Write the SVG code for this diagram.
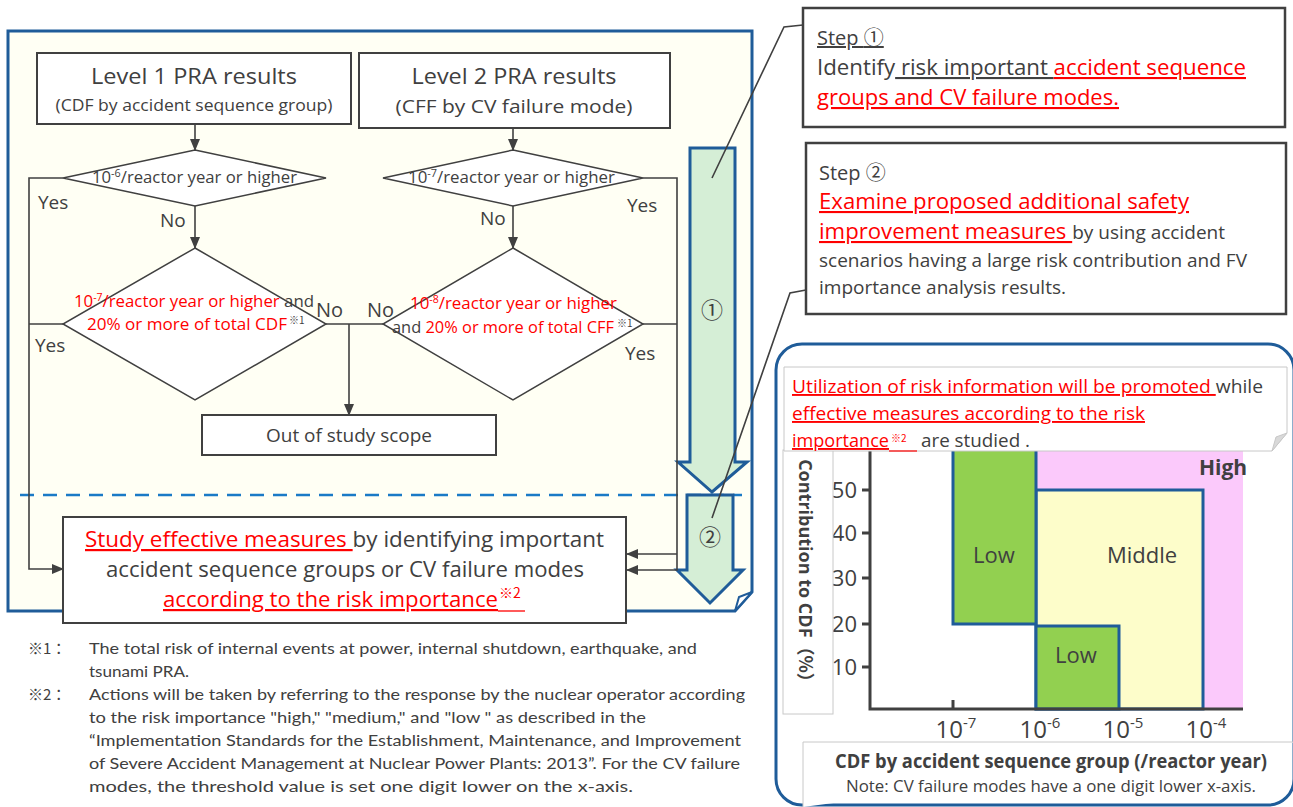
<svg xmlns="http://www.w3.org/2000/svg" width="1293" height="807" viewBox="0 0 1293 807">
<defs>
<style>
text{font-family:"Open Sans","Noto Sans","Noto Sans CJK JP",sans-serif;fill:#404040}
.r{fill:#ff0000}
.u{text-decoration:underline}
.box{fill:#fff;stroke:#404040;stroke-width:2}
.dia{fill:#fff;stroke:#404040;stroke-width:1.5}
.ln{fill:none;stroke:#404040;stroke-width:1.6}
.gar{fill:#d5eed6;stroke:#1f5c99;stroke-width:3}
.fn{font-family:Lato,"Liberation Sans","Noto Sans CJK JP",sans-serif;font-size:16px}
.cjk{font-family:"Noto Sans CJK JP",sans-serif}
.rg{stroke:#1f5c99;stroke-width:3}
</style>
<marker id="ah" markerWidth="12" markerHeight="12" refX="11" refY="6" orient="auto" markerUnits="userSpaceOnUse">
<path d="M0,1 L12,6 L0,11 Z" fill="#404040"/>
</marker>
</defs>

<!-- outer flow panel -->
<g id="panel">
<path d="M8,31 H752 V592 L735,611 H8 Z" fill="#fffff4" stroke="#1f5c99" stroke-width="3"/>
<path d="M735,611 L739,597 L752,592 Z" fill="#fff" stroke="#1f5c99" stroke-width="2"/>
<line x1="20" y1="495" x2="742" y2="495" stroke="#1a7ac6" stroke-width="2.5" stroke-dasharray="14 9"/>
</g>

<g id="step-arrows">
<path class="gar" d="M690,148 H735 V462 H747 L712,492 L678,462 H690 Z"/>
<path class="gar" d="M687,495 H733 V570 H743 L710,603 L677,570 H687 Z"/>
<text x="712" y="318" font-size="22" text-anchor="middle" class="cjk" fill="#595959">①</text>
<text x="710" y="545" font-size="22" text-anchor="middle" class="cjk" fill="#595959">②</text>
</g>

<g id="connectors">
<path class="ln" d="M195,123 V150" marker-end="url(#ah)"/>
<path class="ln" d="M513,128 V150" marker-end="url(#ah)"/>
<path class="ln" d="M195,206 V248" marker-end="url(#ah)"/>
<path class="ln" d="M513,206 V248" marker-end="url(#ah)"/>
<path class="ln" d="M63,178 H29 V569 H63" marker-end="url(#ah)"/>
<path class="ln" d="M63,324 H29"/>
<path class="ln" d="M326,324 H383"/>
<path class="ln" d="M349,324 V415" marker-end="url(#ah)"/>
<path class="ln" d="M643,178 H677 V570 H627" marker-end="url(#ah)"/>
<path class="ln" d="M643,324 H677"/>
<path class="ln" d="M677,554 H627" marker-end="url(#ah)"/>
<polyline class="ln" points="712,178 784,27 803,25"/>
<polyline class="ln" points="712,518 790,293 806,290"/>
</g>

<g id="level1">
<rect class="box" x="37" y="53" width="314" height="71"/>
<text x="194" y="84" font-size="22" text-anchor="middle" textLength="206" lengthAdjust="spacingAndGlyphs">Level 1 PRA results</text>
<text x="194" y="111" font-size="17" text-anchor="middle" textLength="277" lengthAdjust="spacingAndGlyphs">(CDF by accident sequence group)</text>
</g>

<g id="level2">
<rect class="box" x="359" y="53" width="311" height="75"/>
<text x="514" y="84" font-size="22" text-anchor="middle" textLength="205" lengthAdjust="spacingAndGlyphs">Level 2 PRA results</text>
<text x="514" y="113" font-size="18" text-anchor="middle" textLength="237" lengthAdjust="spacingAndGlyphs">(CFF by CV failure mode)</text>
</g>

<g id="dec1">
<path class="dia" d="M195,150 L326,178 L195,206 L63,178 Z"/>
<text x="92" y="183" font-size="15.5" textLength="205" lengthAdjust="spacingAndGlyphs">10<tspan font-size="10" dy="-6">-6</tspan><tspan dy="6">/reactor year or higher</tspan></text>
<text x="38" y="209" font-size="19">Yes</text>
<text x="160" y="227" font-size="19">No</text>
</g>

<g id="dec2">
<path class="dia" d="M513,150 L643,178 L513,206 L383,178 Z"/>
<text x="408" y="183" font-size="15.5" textLength="207" lengthAdjust="spacingAndGlyphs">10<tspan font-size="10" dy="-6">-7</tspan><tspan dy="6">/reactor year or higher</tspan></text>
<text x="480" y="225" font-size="19">No</text>
<text x="627" y="212" font-size="19">Yes</text>
</g>

<g id="dec3">
<path class="dia" d="M195,248 L326,324 L195,400 L63,324 Z"/>
<text x="74" y="307" font-size="16" textLength="240" lengthAdjust="spacingAndGlyphs"><tspan class="r">10</tspan><tspan class="r" font-size="10" dy="-6">-7</tspan><tspan class="r" dy="6">/reactor year or higher </tspan><tspan>and</tspan></text>
<text x="87" y="330" font-size="16" textLength="200" lengthAdjust="spacingAndGlyphs" class="r">20% or more of total CDF</text>
<text x="289" y="324" font-size="10" class="cjk" fill="#595959">※1</text>
<text x="316" y="317" font-size="20" fill="#595959">No</text>
<text x="35" y="352" font-size="19">Yes</text>
</g>

<g id="dec4">
<path class="dia" d="M513,248 L643,324 L513,400 L383,324 Z"/>
<text x="410" y="309" font-size="16" textLength="207" lengthAdjust="spacingAndGlyphs" class="r">10<tspan font-size="10" dy="-6">-8</tspan><tspan dy="6">/reactor year or higher</tspan></text>
<text x="392" y="333" font-size="16" textLength="222" lengthAdjust="spacingAndGlyphs"><tspan>and </tspan><tspan class="r">20% or more of total CFF</tspan></text>
<text x="617" y="327" font-size="10" class="cjk" fill="#595959">※1</text>
<text x="367" y="317" font-size="20" fill="#595959">No</text>
<text x="625" y="360" font-size="19">Yes</text>
</g>

<g id="out-scope">
<rect class="box" x="202" y="415" width="294" height="40"/>
<text x="349" y="442" font-size="19" text-anchor="middle" textLength="166" lengthAdjust="spacingAndGlyphs">Out of study scope</text>
</g>

<g id="study">
<rect class="box" x="63" y="517" width="563" height="106"/>
<text x="85" y="547" font-size="22" textLength="519" lengthAdjust="spacingAndGlyphs"><tspan class="r u">Study effective measures </tspan><tspan>by identifying important</tspan></text>
<text x="106" y="577" font-size="22" textLength="478" lengthAdjust="spacingAndGlyphs">accident sequence groups or CV failure modes</text>
<text x="163" y="607" font-size="22" textLength="335" lengthAdjust="spacingAndGlyphs" class="r u">according to the risk importance</text>
<text x="499" y="598" font-size="14" class="r cjk">※2</text>
<line x1="498" y1="611" x2="525" y2="611" stroke="#ff0000" stroke-width="1.3"/>
</g>

<g id="footnotes">
<text x="28" y="654" class="fn" fill="#404040"><tspan class="cjk" font-size="15">※1：</tspan></text>
<text x="89" y="654" class="fn" textLength="608" lengthAdjust="spacingAndGlyphs">The total risk of internal events at power, internal shutdown, earthquake, and</text>
<text x="89" y="677" class="fn" textLength="100" lengthAdjust="spacingAndGlyphs">tsunami PRA.</text>
<text x="28" y="700" class="fn"><tspan class="cjk" font-size="15">※2：</tspan></text>
<text x="89" y="700" class="fn" textLength="656" lengthAdjust="spacingAndGlyphs">Actions will be taken by referring to the response by the nuclear operator according</text>
<text x="89" y="723" class="fn" textLength="557" lengthAdjust="spacingAndGlyphs">to the risk importance "high," "medium," and "low " as described in the</text>
<text x="89" y="746" class="fn" textLength="652" lengthAdjust="spacingAndGlyphs">“Implementation Standards for the Establishment, Maintenance, and Improvement</text>
<text x="89" y="769" class="fn" textLength="651" lengthAdjust="spacingAndGlyphs">of Severe Accident Management at Nuclear Power Plants: 2013”.  For the CV failure</text>
<text x="89" y="792" class="fn" textLength="544" lengthAdjust="spacingAndGlyphs">modes, the threshold value is set one digit lower on the x-axis.</text>
</g>

<g id="step1">
<rect x="803" y="8" width="482" height="119" fill="#fff" stroke="#404040" stroke-width="2.5"/>
<text x="817" y="45" font-size="20" class="u">Step <tspan class="cjk">①</tspan></text>
<text x="817" y="75" font-size="21" textLength="429" lengthAdjust="spacingAndGlyphs"><tspan>Identify</tspan><tspan class="u"> risk important </tspan><tspan class="r u">accident sequence</tspan></text>
<text x="817" y="105" font-size="21" textLength="302" lengthAdjust="spacingAndGlyphs" class="r u">groups and CV failure modes.</text>
</g>

<g id="step2">
<rect x="806" y="143" width="480" height="171" fill="#fff" stroke="#404040" stroke-width="2.5"/>
<text x="819" y="180" font-size="20">Step <tspan class="cjk">②</tspan></text>
<text x="819" y="209" font-size="21" textLength="370" lengthAdjust="spacingAndGlyphs" class="r u">Examine proposed additional safety</text>
<text x="819" y="239" font-size="20" textLength="406" lengthAdjust="spacingAndGlyphs"><tspan class="r u" font-size="21">improvement measures </tspan><tspan font-size="18">by using accident</tspan></text>
<text x="819" y="267" font-size="18" textLength="428" lengthAdjust="spacingAndGlyphs">scenarios having a large risk contribution and FV</text>
<text x="819" y="294" font-size="18" textLength="247" lengthAdjust="spacingAndGlyphs">importance analysis results.</text>
</g>

<g id="risk-panel">
<rect x="776" y="344" width="518" height="461" rx="26" fill="#fff" stroke="#1f5c99" stroke-width="3"/>
<!-- chart regions -->
<rect x="1036" y="440" width="207" height="269" fill="#fbc9fb"/>
<rect x="1036" y="490" width="167" height="219" fill="#fdfdca" class="rg"/>
<rect x="953" y="440" width="83" height="184" fill="#92d050" class="rg"/>
<rect x="1036" y="626" width="83" height="83" fill="#92d050" class="rg"/>
<!-- axes -->
<g stroke="#404040" stroke-width="3" fill="none">
<path d="M870,440 V709 H1243"/>
<path d="M862,490 H870 M862,533 H870 M862,578 H870 M862,624 H870 M862,667 H870"/>
<path d="M953,700 V709"/>
</g>
<g font-size="22" text-anchor="end">
<text x="857" y="498">50</text>
<text x="857" y="541">40</text>
<text x="857" y="586">30</text>
<text x="857" y="632">20</text>
<text x="857" y="675">10</text>
</g>
<g font-size="24" text-anchor="middle">
<text x="956" y="738">10<tspan font-size="15" dy="-10">-7</tspan></text>
<text x="1040" y="738">10<tspan font-size="15" dy="-10">-6</tspan></text>
<text x="1123" y="738">10<tspan font-size="15" dy="-10">-5</tspan></text>
<text x="1206" y="738">10<tspan font-size="15" dy="-10">-4</tspan></text>
</g>
<text x="1223" y="475" font-size="21" font-weight="bold" text-anchor="middle">High</text>
<text x="994" y="563" font-size="22" text-anchor="middle">Low</text>
<text x="1142" y="563" font-size="22" text-anchor="middle">Middle</text>
<text x="1076" y="663" font-size="22" text-anchor="middle">Low</text>
<!-- y label box -->
<rect x="783" y="450" width="50" height="264" fill="#fff" stroke="#c8c8c8" stroke-width="1"/>
<text transform="translate(799,575) rotate(90)" font-size="18" font-weight="bold" text-anchor="middle">Contribution to CDF<tspan class="cjk">（%）</tspan></text>
<!-- x label box -->
<path d="M1296,742 H803 V807" fill="#fff" stroke="#c8c8c8" stroke-width="1"/>
<text x="1051" y="768" font-size="19" font-weight="bold" text-anchor="middle" textLength="432" lengthAdjust="spacingAndGlyphs">CDF by accident sequence group (/reactor year)</text>
<text x="1051" y="792" font-size="16" text-anchor="middle" textLength="410" lengthAdjust="spacingAndGlyphs">Note: CV failure modes have a one digit lower x-axis.</text>
<!-- callout -->
<path d="M784,367 H1287 V433 L1272,451 H784 Z" fill="#fff" stroke="#c8c8c8" stroke-width="1"/>
<path d="M1272,451 L1276,437 L1287,433 Z" fill="#d9d9d9" stroke="#c8c8c8" stroke-width="1"/>
<text x="792" y="393" font-size="19" textLength="471" lengthAdjust="spacingAndGlyphs"><tspan class="r u">Utilization of risk information will be promoted </tspan><tspan>while</tspan></text>
<text x="792" y="420" font-size="19" textLength="353" lengthAdjust="spacingAndGlyphs" class="r u">effective measures according to the risk</text>
<text x="792" y="447" font-size="19"><tspan class="r u" textLength="97" lengthAdjust="spacingAndGlyphs">importance</tspan><tspan class="r cjk" font-size="10" dx="2" dy="-5">※2</tspan></text>
<line x1="889" y1="451" x2="917" y2="451" stroke="#ff0000" stroke-width="1.2"/>
<text x="921" y="447" font-size="19" textLength="109" lengthAdjust="spacingAndGlyphs">are studied .</text>
</g>
</svg>
